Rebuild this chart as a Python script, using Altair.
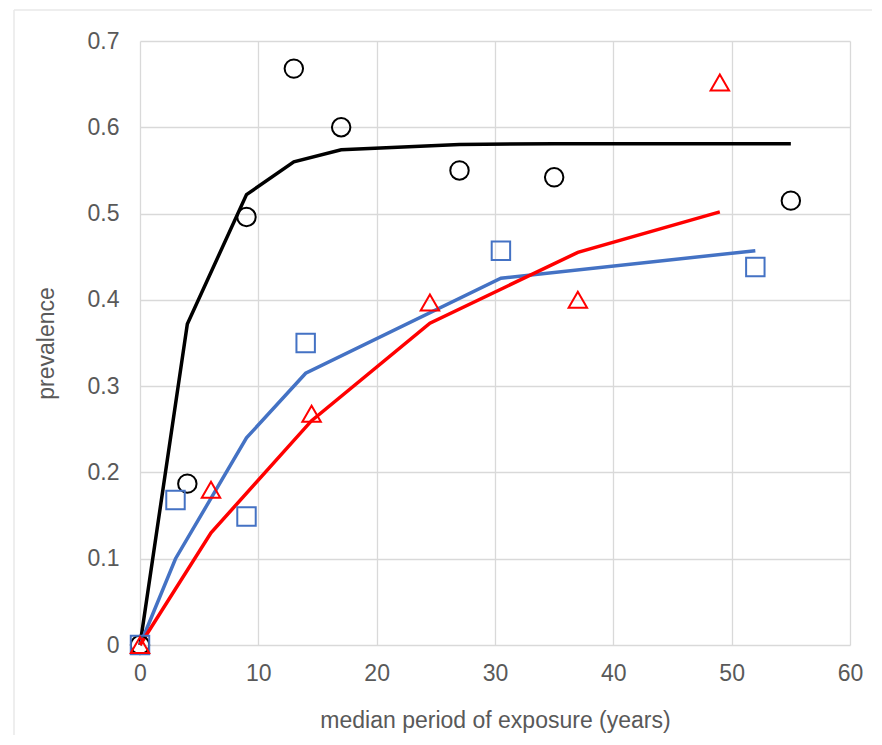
import altair as alt
import pandas as pd

# Observed points
circ_x = [0, 4, 9, 13, 17, 27, 35, 55]
circ_y = [0, 0.187, 0.496, 0.668, 0.600, 0.550, 0.542, 0.515]
sq_x = [0, 3, 9, 14, 30.5, 52]
sq_y = [0, 0.168, 0.149, 0.350, 0.457, 0.438]
tri_x = [0, 6, 14.5, 24.5, 37, 49]
tri_y = [0, 0.180, 0.268, 0.397, 0.400, 0.652]

# Fitted lines
bl_x = [0, 4, 9, 13, 17, 27, 35, 55]
bl_y = [0, 0.372, 0.522, 0.560, 0.574, 0.580, 0.581, 0.581]
bu_x = [0, 3, 9, 14, 30.5, 52]
bu_y = [0, 0.100, 0.240, 0.315, 0.425, 0.457]
rd_x = [0, 6, 14.5, 24.5, 37, 49]
rd_y = [0, 0.130, 0.260, 0.373, 0.455, 0.502]

series = ["A", "B", "C"]
colors = ["#000000", "#4472C4", "#FF0000"]
shapes = ["circle", "square", "triangle-up"]

pts = pd.concat([
    pd.DataFrame({"x": circ_x, "y": circ_y, "s": "A"}),
    pd.DataFrame({"x": sq_x, "y": sq_y, "s": "B"}),
    pd.DataFrame({"x": tri_x, "y": tri_y, "s": "C"}),
])
lns = pd.concat([
    pd.DataFrame({"x": bl_x, "y": bl_y, "s": "A", "o": range(len(bl_x))}),
    pd.DataFrame({"x": bu_x, "y": bu_y, "s": "B", "o": range(len(bu_x))}),
    pd.DataFrame({"x": rd_x, "y": rd_y, "s": "C", "o": range(len(rd_x))}),
])

xs = alt.Scale(domain=[0, 60], nice=False, zero=False)
ys = alt.Scale(domain=[0, 0.7], nice=False, zero=False)
cs = alt.Scale(domain=series, range=colors)

FONT = "Liberation Sans"
xax = alt.Axis(values=[0, 10, 20, 30, 40, 50, 60], title="median period of exposure (years)",
               labelFontSize=23, titleFontSize=23, labelColor="#595959", titleColor="#595959",
               labelPadding=17, titlePadding=24, ticks=False, domain=False, labelFlush=False,
               gridColor="#d9d9d9", gridWidth=1.3, titleFontWeight="normal",
               labelFont=FONT, titleFont=FONT)
yax = alt.Axis(values=[0, 0.1, 0.2, 0.3, 0.4, 0.5, 0.6, 0.7], title="prevalence",
               labelFontSize=23, titleFontSize=23, labelColor="#595959", titleColor="#595959",
               labelPadding=21, titlePadding=29, ticks=False, domain=False, labelFlush=False,
               gridColor="#d9d9d9", gridWidth=1.3, titleFontWeight="normal",
               labelFont=FONT, titleFont=FONT,
               labelExpr="datum.value == 0 ? '0' : format(datum.value, '.1f')")

lines = alt.Chart(lns).mark_line(strokeWidth=3.5).encode(
    x=alt.X("x:Q", scale=xs, axis=xax),
    y=alt.Y("y:Q", scale=ys, axis=yax),
    color=alt.Color("s:N", scale=cs, legend=None),
    order="o:Q",
)
points = alt.Chart(pts).mark_point(filled=False, strokeWidth=2, size=340, opacity=1).encode(
    x=alt.X("x:Q", scale=xs),
    y=alt.Y("y:Q", scale=ys),
    color=alt.Color("s:N", scale=cs, legend=None),
    shape=alt.Shape("s:N", scale=alt.Scale(domain=series, range=shapes), legend=None),
)

# outer chart frame (top and left edges visible)
frame_top = alt.Chart(pd.DataFrame({"a": [0]})).mark_rule(color="#e8e8e8", strokeWidth=1.5).encode(
    x=alt.value(-126), x2=alt.value(734), y=alt.value(-31))
frame_left = alt.Chart(pd.DataFrame({"a": [0]})).mark_rule(color="#e8e8e8", strokeWidth=1.5).encode(
    x=alt.value(-126), y=alt.value(-31), y2=alt.value(696))

chart = alt.layer(frame_top, frame_left, lines, points).properties(
    width=710, height=604,
    autosize=alt.AutoSizeParams(type="none"),
    padding={"left": 132, "top": 33, "right": 22, "bottom": 90},
).configure_view(stroke=None)

chart.save("out.html", embed_options={"renderer": "svg", "actions": False})
